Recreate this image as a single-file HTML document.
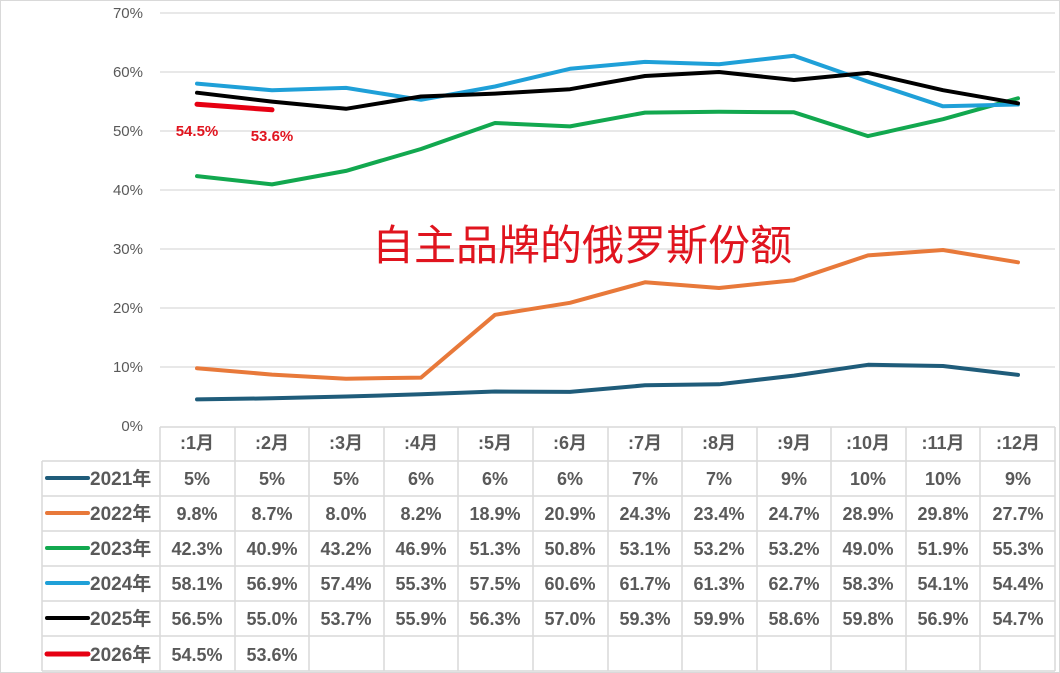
<!DOCTYPE html><html><head><meta charset="utf-8"><style>body{margin:0;background:#fff}svg{display:block}text{font-family:"Liberation Sans","Noto Sans CJK SC",sans-serif}</style></head><body>
<svg width="1060" height="673" xmlns="http://www.w3.org/2000/svg">
<rect x="0.5" y="0.5" width="1059" height="672" fill="#fff" stroke="#d9d9d9"/>
<g stroke="#d9d9d9" stroke-width="1.3">
<line x1="160" x2="1055" y1="13" y2="13"/><line x1="160" x2="1055" y1="72" y2="72"/><line x1="160" x2="1055" y1="131" y2="131"/><line x1="160" x2="1055" y1="190" y2="190"/><line x1="160" x2="1055" y1="249" y2="249"/><line x1="160" x2="1055" y1="308" y2="308"/><line x1="160" x2="1055" y1="367" y2="367"/>
</g>
<g font-size="15" fill="#595959" text-anchor="end">
<text x="143" y="18">70%</text><text x="143" y="77">60%</text><text x="143" y="136">50%</text><text x="143" y="195">40%</text><text x="143" y="254">30%</text><text x="143" y="313">20%</text><text x="143" y="372">10%</text><text x="143" y="431">0%</text>
</g>
<g stroke="#d9d9d9" stroke-width="1.5" fill="none">
<line x1="160" x2="1055" y1="427" y2="427"/>
<line x1="42" x2="1055" y1="461" y2="461"/><line x1="42" x2="1055" y1="496" y2="496"/><line x1="42" x2="1055" y1="531" y2="531"/><line x1="42" x2="1055" y1="566" y2="566"/><line x1="42" x2="1055" y1="601" y2="601"/><line x1="42" x2="1055" y1="636" y2="636"/><line x1="42" x2="1055" y1="671" y2="671"/>
<line x1="42" x2="42" y1="461" y2="671"/>
<line x1="160" x2="160" y1="427" y2="671"/><line x1="235" x2="235" y1="427" y2="671"/><line x1="309" x2="309" y1="427" y2="671"/><line x1="384" x2="384" y1="427" y2="671"/><line x1="458" x2="458" y1="427" y2="671"/><line x1="533" x2="533" y1="427" y2="671"/><line x1="608" x2="608" y1="427" y2="671"/><line x1="682" x2="682" y1="427" y2="671"/><line x1="757" x2="757" y1="427" y2="671"/><line x1="831" x2="831" y1="427" y2="671"/><line x1="906" x2="906" y1="427" y2="671"/><line x1="980" x2="980" y1="427" y2="671"/><line x1="1055" x2="1055" y1="427" y2="671"/>
</g>
<g fill="none" stroke-width="4" stroke-linejoin="round" stroke-linecap="round">
<polyline stroke="#1f5c7a" points="197,399.4 272,398.3 346,396.5 421,394.3 495,391.5 570,391.9 645,385.3 719,384.3 794,375.6 868,364.8 943,366.0 1018,374.9"/>
<polyline stroke="#e8793a" points="197,368.2 272,374.6 346,378.7 421,377.6 495,314.8 570,302.8 645,282.3 719,288.0 794,280.2 868,255.4 943,250.0 1018,262.3"/>
<polyline stroke="#12a84f" points="197,176.1 272,184.4 346,170.9 421,149.0 495,123.0 570,126.4 645,112.6 719,111.8 794,112.3 868,136.1 943,119.2 1018,98.3"/>
<polyline stroke="#1fa0d8" points="197,83.6 272,90.3 346,87.9 421,99.8 495,86.5 570,68.8 645,61.9 719,64.2 794,55.8 868,81.6 943,106.3 1018,104.5"/>
<polyline stroke="#000" points="197,92.7 272,101.6 346,108.8 421,96.5 495,93.6 570,89.2 645,76.0 719,72.0 794,80.0 868,72.9 943,90.2 1018,103.3"/>
<polyline stroke="#e60012" stroke-width="5" points="197,104.3 272,109.8"/>
</g>
<g font-size="15" font-weight="bold" fill="#e0141e" text-anchor="middle">
<text x="197" y="136">54.5%</text><text x="272" y="141">53.6%</text>
</g>
<text x="582" y="260" font-size="42" fill="#e0141e" text-anchor="middle">自主品牌的俄罗斯份额</text>
<g font-size="18" fill="#595959" text-anchor="middle" font-weight="bold">
<text x="197" y="449">:1月</text><text x="272" y="449">:2月</text><text x="346" y="449">:3月</text><text x="421" y="449">:4月</text><text x="495" y="449">:5月</text><text x="570" y="449">:6月</text><text x="645" y="449">:7月</text><text x="719" y="449">:8月</text><text x="794" y="449">:9月</text><text x="868" y="449">:10月</text><text x="943" y="449">:11月</text><text x="1018" y="449">:12月</text>
</g>
<g stroke-width="4" stroke-linecap="round">
<line x1="47" x2="88" y1="478" y2="478" stroke="#1f5c7a"/>
<line x1="47" x2="88" y1="513" y2="513" stroke="#e8793a"/>
<line x1="47" x2="88" y1="548" y2="548" stroke="#12a84f"/>
<line x1="47" x2="88" y1="583" y2="583" stroke="#1fa0d8"/>
<line x1="47" x2="88" y1="618" y2="618" stroke="#000"/>
<line x1="47" x2="88" y1="654" y2="654" stroke="#e60012" stroke-width="5"/>
</g>
<g font-size="19" fill="#595959" font-weight="bold">
<text x="90" y="485">2021年</text><text x="90" y="520">2022年</text><text x="90" y="555">2023年</text><text x="90" y="590">2024年</text><text x="90" y="625">2025年</text><text x="90" y="661">2026年</text>
</g>
<g font-size="18" fill="#595959" font-weight="bold" text-anchor="middle">
<g transform="translate(0,485)"><text x="197">5%</text><text x="272">5%</text><text x="346">5%</text><text x="421">6%</text><text x="495">6%</text><text x="570">6%</text><text x="645">7%</text><text x="719">7%</text><text x="794">9%</text><text x="868">10%</text><text x="943">10%</text><text x="1018">9%</text></g>
<g transform="translate(0,520)"><text x="197">9.8%</text><text x="272">8.7%</text><text x="346">8.0%</text><text x="421">8.2%</text><text x="495">18.9%</text><text x="570">20.9%</text><text x="645">24.3%</text><text x="719">23.4%</text><text x="794">24.7%</text><text x="868">28.9%</text><text x="943">29.8%</text><text x="1018">27.7%</text></g>
<g transform="translate(0,555)"><text x="197">42.3%</text><text x="272">40.9%</text><text x="346">43.2%</text><text x="421">46.9%</text><text x="495">51.3%</text><text x="570">50.8%</text><text x="645">53.1%</text><text x="719">53.2%</text><text x="794">53.2%</text><text x="868">49.0%</text><text x="943">51.9%</text><text x="1018">55.3%</text></g>
<g transform="translate(0,590)"><text x="197">58.1%</text><text x="272">56.9%</text><text x="346">57.4%</text><text x="421">55.3%</text><text x="495">57.5%</text><text x="570">60.6%</text><text x="645">61.7%</text><text x="719">61.3%</text><text x="794">62.7%</text><text x="868">58.3%</text><text x="943">54.1%</text><text x="1018">54.4%</text></g>
<g transform="translate(0,625)"><text x="197">56.5%</text><text x="272">55.0%</text><text x="346">53.7%</text><text x="421">55.9%</text><text x="495">56.3%</text><text x="570">57.0%</text><text x="645">59.3%</text><text x="719">59.9%</text><text x="794">58.6%</text><text x="868">59.8%</text><text x="943">56.9%</text><text x="1018">54.7%</text></g>
<g transform="translate(0,661)"><text x="197">54.5%</text><text x="272">53.6%</text></g>
</g>
</svg>
</body></html>
